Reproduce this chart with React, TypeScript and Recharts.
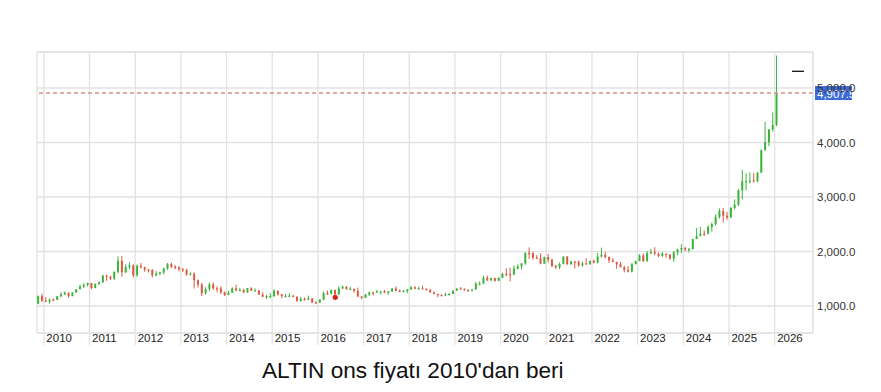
import {
	ComposedChart,
	Bar,
	Scatter,
	XAxis,
	YAxis,
	CartesianGrid,
	ReferenceLine,
} from "recharts";

// monthly gold candles, first one is Nov 2009
const startYear = 2009;
const startMonth = 11;
const firstOpen = 1045;

const closes = [
	1180, 1097,
	1082, 1119, 1113, 1180, 1213, 1244, 1181, 1248, 1308, 1357, 1386, 1421,
	1332, 1409, 1439, 1556, 1536, 1500, 1628, 1826, 1620, 1715, 1746, 1565,
	1738, 1710, 1668, 1664, 1562, 1598, 1615, 1692, 1772, 1719, 1713, 1675,
	1663, 1578, 1595, 1472, 1393, 1234, 1313, 1395, 1327, 1323, 1251, 1202,
	1244, 1326, 1284, 1296, 1250, 1327, 1282, 1287, 1210, 1172, 1183, 1184,
	1279, 1213, 1183, 1183, 1190, 1172, 1095, 1133, 1115, 1142, 1065, 1061,
	1118, 1238, 1234, 1293, 1215, 1322, 1351, 1309, 1315, 1277, 1173, 1151,
	1211, 1250, 1249, 1268, 1268, 1242, 1269, 1322, 1280, 1270, 1275, 1303,
	1343, 1318, 1325, 1315, 1298, 1252, 1224, 1201, 1191, 1214, 1222, 1282,
	1321, 1313, 1292, 1284, 1305, 1409, 1413, 1520, 1472, 1513, 1463, 1517,
	1589, 1586, 1577, 1686, 1730, 1781, 1975, 1968, 1887, 1879, 1777, 1898,
	1848, 1734, 1708, 1769, 1906, 1770, 1814, 1813, 1743, 1783, 1774, 1829,
	1797, 1909, 1937, 1897, 1838, 1807, 1766, 1711, 1661, 1633, 1768, 1824,
	1928, 1826, 1969, 1990, 1962, 1919, 1965, 1940, 1870, 1983, 2036, 2063,
	2040, 2044, 2230, 2286, 2327, 2326, 2447, 2503, 2634, 2744, 2657, 2624,
	2798, 2858, 3123, 3288, 3289, 3303, 3290, 3448, 3858, 4003, 4239, 4320,
	4907.5,
];

const highs = [
	1195, 1226,
	1162, 1139, 1140, 1181, 1249, 1266, 1245, 1251, 1310, 1388, 1424, 1431,
	1424, 1411, 1447, 1575, 1577, 1556, 1632, 1913, 1921, 1764, 1803, 1764,
	1764, 1791, 1720, 1677, 1675, 1640, 1630, 1696, 1790, 1796, 1754, 1726,
	1697, 1685, 1617, 1617, 1487, 1424, 1348, 1433, 1434, 1361, 1362, 1267,
	1280, 1345, 1392, 1332, 1315, 1332, 1345, 1322, 1295, 1255, 1207, 1238,
	1308, 1283, 1224, 1224, 1232, 1205, 1175, 1170, 1157, 1192, 1146, 1089,
	1126, 1263, 1284, 1302, 1304, 1362, 1375, 1367, 1352, 1318, 1337, 1182,
	1220, 1264, 1262, 1295, 1273, 1296, 1275, 1331, 1358, 1306, 1299, 1309,
	1366, 1361, 1356, 1369, 1326, 1309, 1266, 1222, 1214, 1243, 1237, 1284,
	1326, 1347, 1324, 1310, 1306, 1439, 1453, 1555, 1557, 1518, 1516, 1527,
	1611, 1689, 1704, 1747, 1765, 1785, 1983, 2075, 1992, 1933, 1965, 1906,
	1959, 1872, 1755, 1798, 1912, 1916, 1832, 1831, 1834, 1814, 1877, 1830,
	1853, 1974, 2070, 1998, 1910, 1879, 1814, 1807, 1736, 1730, 1787, 1833,
	1949, 1960, 2009, 2048, 2079, 1983, 1987, 1949, 1953, 2009, 2052, 2135,
	2088, 2065, 2222, 2431, 2450, 2388, 2483, 2531, 2685, 2790, 2801, 2726,
	2817, 2956, 3148, 3500, 3435, 3452, 3439, 3454, 3871, 4381, 4245, 4550,
	5595,
];

const lows = [
	1035, 1075,
	1072, 1045, 1088, 1116, 1160, 1202, 1155, 1179, 1243, 1308, 1330, 1360,
	1309, 1324, 1381, 1418, 1462, 1477, 1478, 1600, 1535, 1603, 1670, 1523,
	1530, 1690, 1627, 1614, 1527, 1547, 1565, 1582, 1662, 1692, 1672, 1635,
	1626, 1555, 1562, 1321, 1338, 1180, 1207, 1270, 1291, 1251, 1221, 1182,
	1202, 1239, 1277, 1268, 1240, 1241, 1281, 1273, 1206, 1160, 1131, 1142,
	1167, 1191, 1142, 1167, 1169, 1162, 1077, 1080, 1098, 1107, 1052, 1046,
	1061, 1107, 1206, 1205, 1199, 1200, 1310, 1301, 1302, 1241, 1171, 1122,
	1146, 1180, 1194, 1241, 1214, 1236, 1205, 1260, 1272, 1260, 1264, 1236,
	1303, 1307, 1303, 1313, 1282, 1245, 1211, 1160, 1180, 1182, 1196, 1221,
	1276, 1303, 1281, 1266, 1266, 1301, 1381, 1400, 1459, 1459, 1445, 1455,
	1517, 1548, 1451, 1567, 1669, 1671, 1757, 1863, 1848, 1860, 1764, 1775,
	1802, 1717, 1677, 1677, 1766, 1750, 1751, 1687, 1721, 1721, 1758, 1753,
	1780, 1781, 1890, 1872, 1787, 1805, 1681, 1709, 1615, 1617, 1617, 1765,
	1823, 1804, 1810, 1949, 1932, 1893, 1903, 1885, 1847, 1810, 1931, 1973,
	2002, 1984, 2039, 2229, 2277, 2286, 2318, 2364, 2472, 2603, 2536, 2583,
	2614, 2772, 2833, 2957, 3121, 3248, 3268, 3268, 3436, 3850, 3931, 4200,
	4300,
];

const yearTicks = [
	2010, 2011, 2012, 2013, 2014, 2015, 2016, 2017, 2018, 2019, 2020, 2021,
	2022, 2023, 2024, 2025, 2026,
];
const priceTicks = [1000, 2000, 3000, 4000, 5000];
const lastPrice = 4907.5;
const redDot = [{ t: 2016.38, price: 1160 }];
const blackDash = [{ t: 2026.51, price: 5306 }];

const UP = "#3cb43c";
const DOWN = "#db5a44";
const GRID = "#e2e2e2";

const candles = closes.map((close, i) => {
	const m = startMonth - 1 + i;
	const t = startYear + Math.floor(m / 12) + ((m % 12) + 0.5) / 12;
	const open = i === 0 ? firstOpen : closes[i - 1];
	return { t, open, close, high: highs[i], low: lows[i] };
});

function Candle(props: any) {
	const { x, y, width, height, payload } = props;
	if (x == null || y == null) return null;
	const top = Math.min(y, y + height);
	const bottom = Math.max(y, y + height);
	const { open, close, high, low } = payload;
	const span = high - low || 1;
	const py = (v: number) => top + ((high - v) / span) * (bottom - top);
	const cx = x + width / 2;
	const color = close >= open ? UP : DOWN;
	const bTop = py(Math.max(open, close));
	const bBot = py(Math.min(open, close));
	return (
		<g>
			<line x1={cx} x2={cx} y1={top} y2={bottom} stroke={color} strokeWidth={1} />
			<rect
				x={cx - 1}
				y={bTop}
				width={2}
				height={Math.max(1.2, bBot - bTop)}
				fill={color}
			/>
		</g>
	);
}

function YearTick(props: any) {
	const { x, y, payload } = props;
	return (
		<g>
			<line x1={x} x2={x} y1={y} y2={y + 12} stroke={GRID} strokeWidth={1.2} />
			<text x={x + 2.5} y={y + 9} fontSize={11.5} fill="#222">
				{payload.value}
			</text>
		</g>
	);
}

function PriceTag(props: any) {
	const { viewBox } = props;
	if (!viewBox) return null;
	const x = viewBox.x + viewBox.width + 2;
	const y = viewBox.y;
	return (
		<g>
			<rect x={x} y={y - 7} width={37} height={14} fill="#3d6bd6" />
			<text x={x + 2} y={y + 4.5} fontSize={11.5} fill="#fff">
				{lastPrice.toLocaleString("en-US", { minimumFractionDigits: 1 })}
			</text>
		</g>
	);
}

function Dash(props: any) {
	const { cx, cy } = props;
	return <line x1={cx - 6} x2={cx + 6} y1={cy} y2={cy} stroke="#111" strokeWidth={1.3} />;
}

export default function App() {
	return (
		<div
			style={{
				position: "relative",
				width: 865,
				height: 376,
				fontFamily: "Arial, 'Liberation Sans', sans-serif",
			}}
		>
			<ComposedChart
				width={865}
				height={350}
				data={candles}
				margin={{ top: 44, right: 0, left: 29, bottom: 5 }}
			>
				<CartesianGrid stroke={GRID} strokeWidth={1.3} />
				<XAxis
					type="number"
					dataKey="t"
					domain={[2009.85, 2026.84]}
					allowDataOverflow
					ticks={yearTicks}
					interval={0}
					tick={<YearTick />}
					tickLine={false}
					tickSize={0}
					tickMargin={0}
					axisLine={{ stroke: GRID }}
					height={20}
				/>
				<YAxis
					orientation="right"
					type="number"
					domain={[505, 5660]}
					allowDataOverflow
					ticks={priceTicks}
					width={60}
					tickLine={false}
					tickSize={0}
					tickMargin={4}
					axisLine={{ stroke: GRID }}
					tick={{ fill: "#333", fontSize: 11.5, textAnchor: "start" }}
					tickFormatter={(v: number) =>
						v.toLocaleString("en-US", { minimumFractionDigits: 1 })
					}
				/>
				<ReferenceLine y={5660} stroke={GRID} strokeWidth={1.3} />
				<ReferenceLine
					y={lastPrice}
					stroke="#d4918a"
					strokeWidth={1.5}
					strokeDasharray="4 3"
					label={<PriceTag />}
				/>
				<Bar
					dataKey={(d: any) => [d.low, d.high]}
					barSize={3}
					shape={<Candle />}
					isAnimationActive={false}
				/>
				<Scatter data={redDot} dataKey="price" fill="#e0201c" isAnimationActive={false} shape={(p: any) => <circle cx={p.cx} cy={p.cy} r={2.6} fill="#e0201c" />} />
				<Scatter data={blackDash} dataKey="price" isAnimationActive={false} shape={<Dash />} />
			</ComposedChart>
			<div
				style={{
					position: "absolute",
					left: 254,
					top: 350,
					fontSize: 22.6,
					color: "#111",
					whiteSpace: "nowrap",
				}}
			>
				ALTIN ons fiyatı 2010'dan beri
			</div>
		</div>
	);
}
